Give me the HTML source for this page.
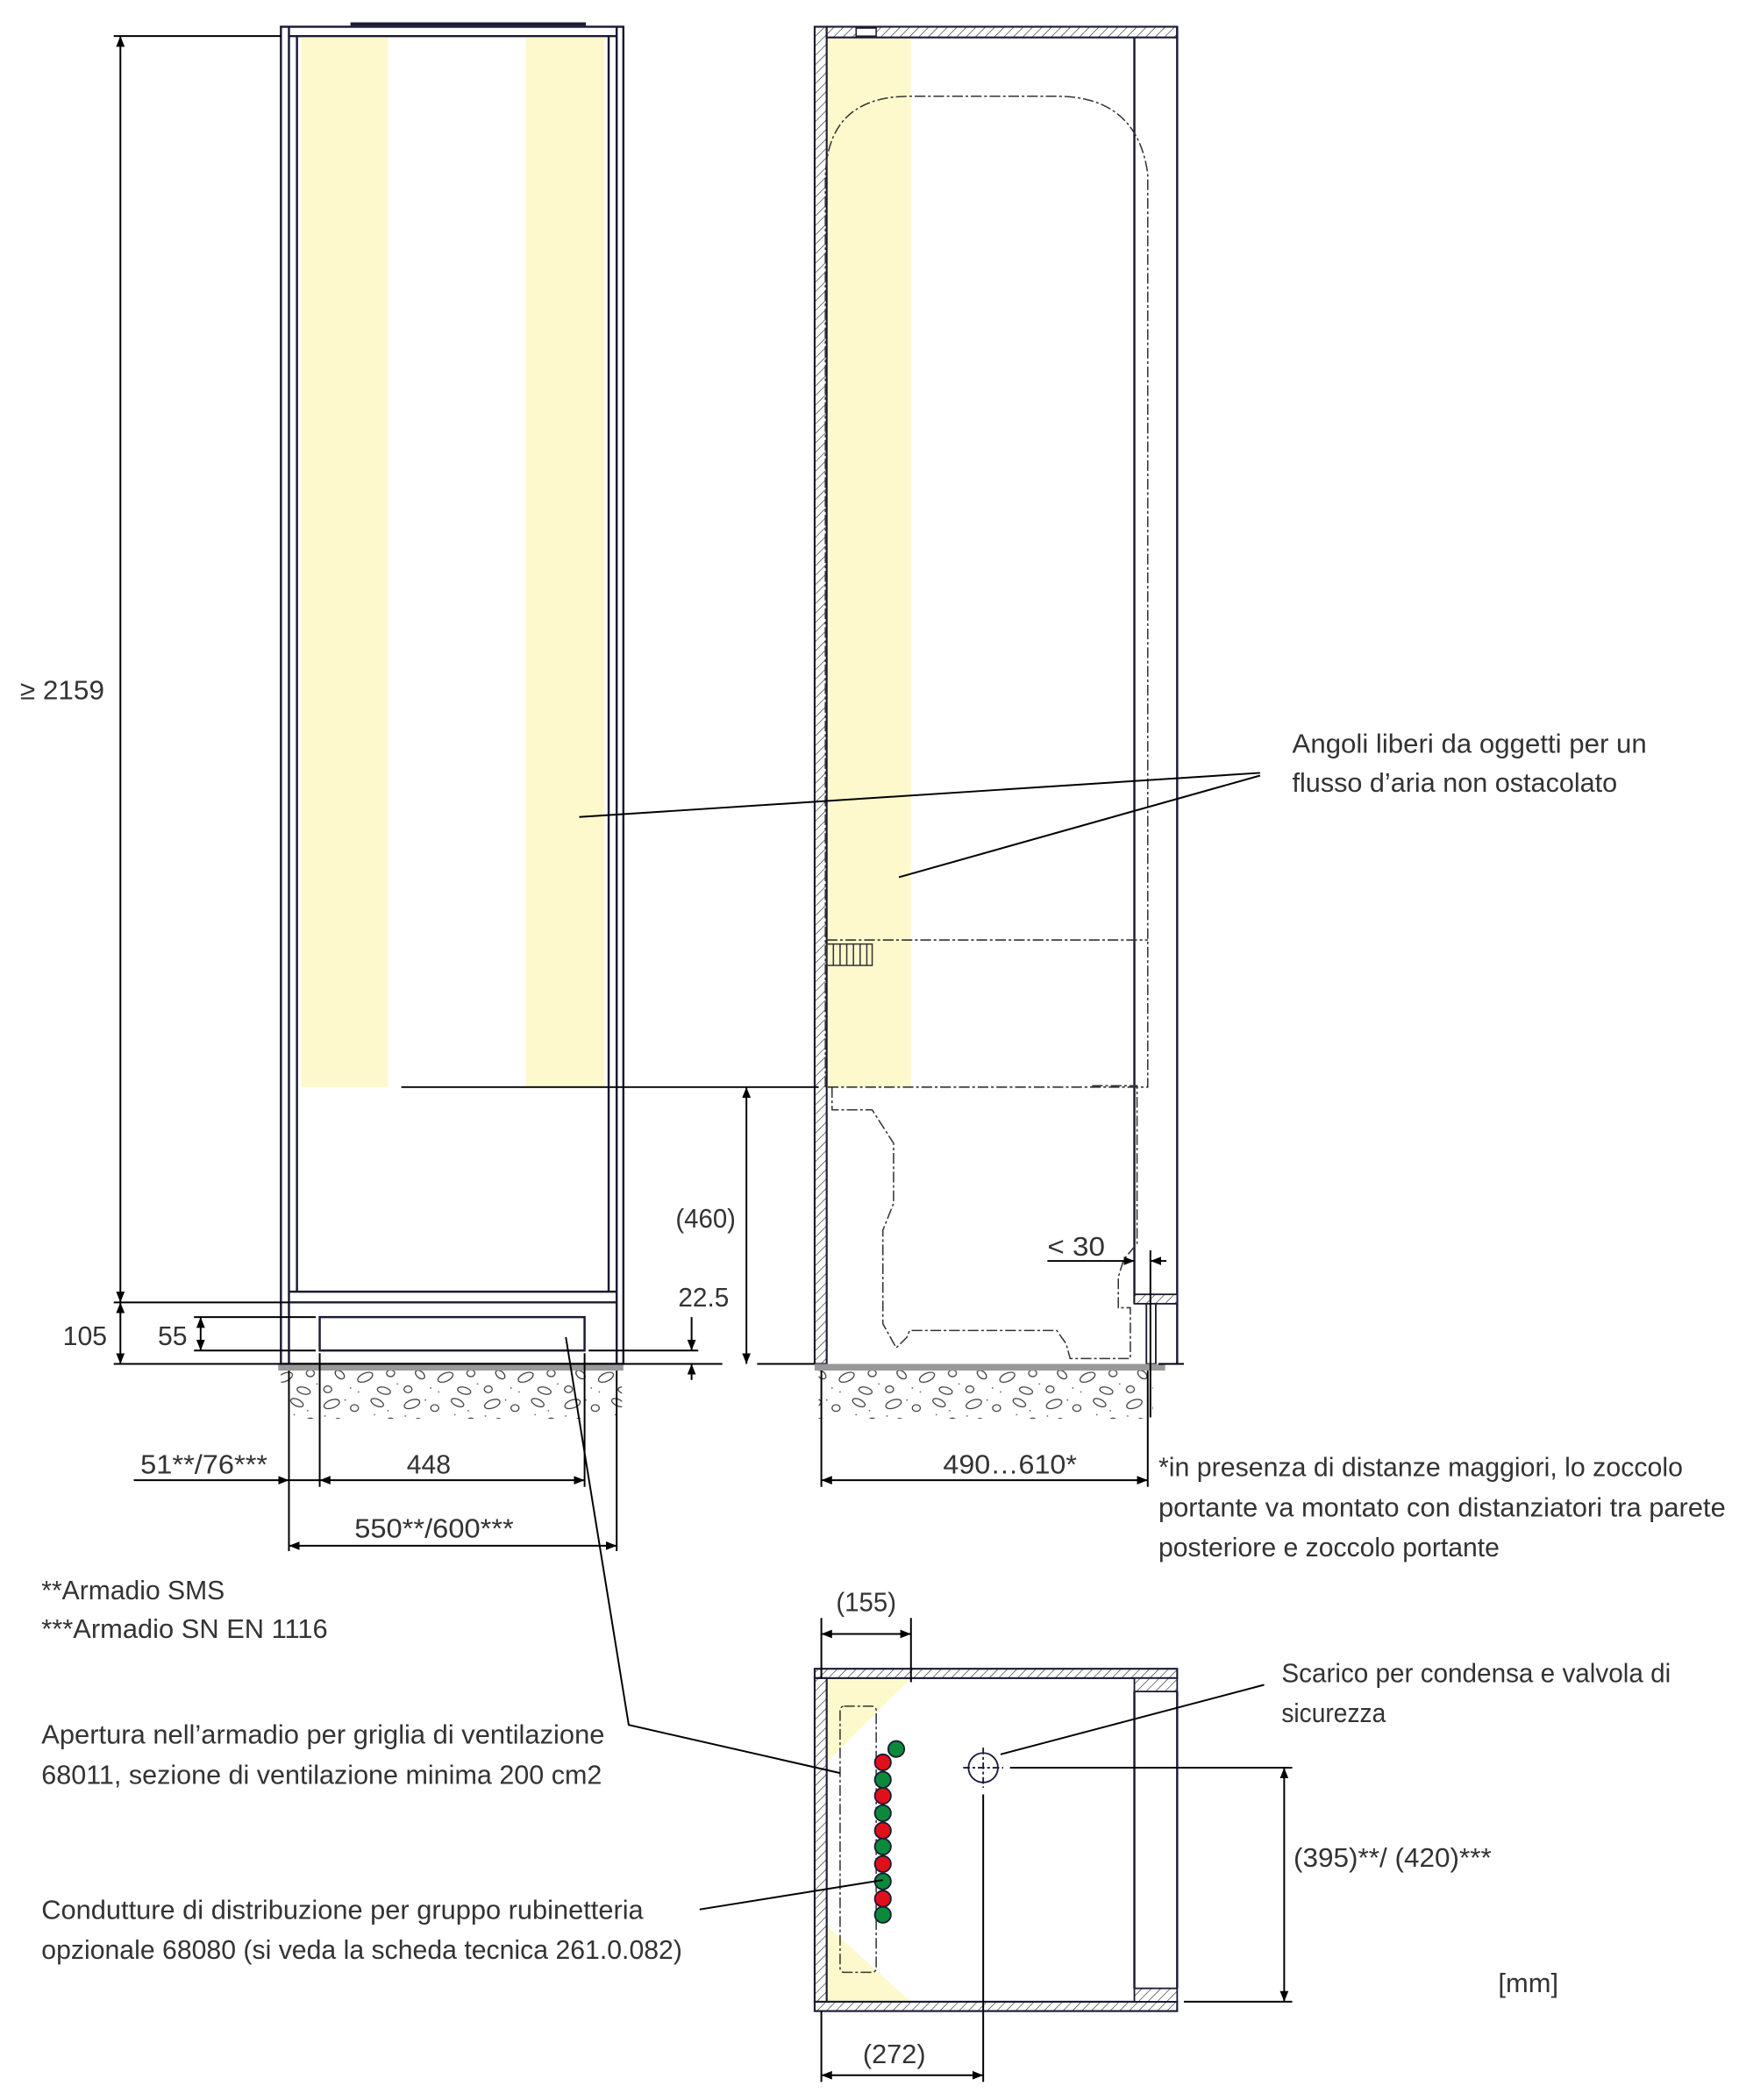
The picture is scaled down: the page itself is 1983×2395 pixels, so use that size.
<!DOCTYPE html>
<html><head><meta charset="utf-8"><style>html,body{margin:0;padding:0;background:#fff}svg{display:block}text{font-family:"Liberation Sans Narrow","Liberation Sans",sans-serif;fill:#333;font-size:20px}</style></head><body>
<svg width="1983" height="2395" viewBox="0 0 1300 1570.5" preserveAspectRatio="none" xmlns="http://www.w3.org/2000/svg">
<defs>
<pattern id="h" width="5" height="5" patternUnits="userSpaceOnUse" patternTransform="rotate(45)"><rect width="5" height="5" fill="#fff"/><line x1="0" y1="0" x2="0" y2="5" stroke="#222" stroke-width="0.8"/></pattern>
<pattern id="g" width="60" height="36" patternUnits="userSpaceOnUse"><g fill="none" stroke="#333" stroke-width="0.8"><ellipse cx="8" cy="6" rx="6" ry="3" transform="rotate(-20 8 6)"/><ellipse cx="25" cy="9" rx="3" ry="2.5"/><ellipse cx="42" cy="5" rx="5" ry="2.5" transform="rotate(25 42 5)"/><ellipse cx="14" cy="20" rx="4" ry="2.5" transform="rotate(40 14 20)"/><ellipse cx="33" cy="22" rx="6" ry="3" transform="rotate(-25 33 22)"/><ellipse cx="52" cy="19" rx="3" ry="2.5"/><ellipse cx="5" cy="31" rx="3" ry="2.5"/><ellipse cx="47" cy="32" rx="5" ry="2.5" transform="rotate(15 47 32)"/></g><g fill="#666"><circle cx="18" cy="3" r=".6"/><circle cx="50" cy="11" r=".6"/><circle cx="22" cy="30" r=".6"/><circle cx="3" cy="15" r=".6"/><circle cx="40" cy="14" r=".6"/><circle cx="28" cy="33" r=".6"/><circle cx="57" cy="27" r=".6"/></g></pattern>
<marker id="a" viewBox="0 0 10 10" refX="10" refY="5" markerWidth="8" markerHeight="8" orient="auto-start-reverse" markerUnits="userSpaceOnUse"><path d="M0,1 L10,5 L0,9 z" fill="#000"/></marker>
</defs>
<g fill="#fef9cc"><rect x="225" y="28" width="65" height="785"/><rect x="393" y="28" width="59" height="785"/><rect x="618" y="28" width="63" height="785"/><path d="M618,1255 L681,1255 L618,1318 z"/><path d="M618,1440 L681,1497 L618,1497 z"/></g>
<!-- left cabinet -->
<g fill="none" stroke="#1a1a33" stroke-width="1.6">
<rect x="210" y="20" width="256" height="1000"/>
<line x1="216" y1="20" x2="216" y2="1020"/><line x1="461" y1="20" x2="461" y2="1020"/>
<line x1="222" y1="27" x2="222" y2="966"/><line x1="455" y1="27" x2="455" y2="966"/>
<line x1="216" y1="27" x2="461" y2="27"/>
<line x1="216" y1="966" x2="461" y2="966"/><line x1="216" y1="974" x2="461" y2="974"/>
<rect x="239" y="985" width="198" height="25"/>
<line x1="262" y1="18" x2="438" y2="18" stroke-width="2.5"/>
</g>
<rect x="208" y="1020" width="258" height="5" fill="#999"/>
<rect x="210" y="1025" width="255" height="36" fill="url(#g)"/>
<!-- side cabinet -->
<rect x="609" y="20" width="9" height="1000" fill="url(#h)" stroke="#1a1a33" stroke-width="1.4"/>
<rect x="618" y="20" width="262" height="8" fill="url(#h)" stroke="#1a1a33" stroke-width="1.4"/>
<rect x="640" y="21" width="15" height="6" fill="#fff" stroke="#1a1a33" stroke-width="1"/>
<g fill="none" stroke="#1a1a33" stroke-width="1.6"><line x1="880" y1="20" x2="880" y2="975"/><line x1="848" y1="28" x2="848" y2="975"/><line x1="880" y1="975" x2="880" y2="1020"/></g>
<rect x="848" y="968" width="32" height="7" fill="url(#h)" stroke="#1a1a33" stroke-width="1.2"/>
<rect x="857" y="975" width="7" height="45" fill="#fff" stroke="#1a1a33" stroke-width="1.2"/>
<g fill="none" stroke="#333" stroke-width="1" stroke-dasharray="8,2,2,2">
<path d="M617,813 L617,135 Q617,72 680,72 L790,72 Q850,72 858,130 L858,813 L618,813"/>
<line x1="618" y1="703" x2="858" y2="703"/>
<path d="M622,813 L622,830 L652,830 L668,855 L668,900 L660,920 L660,990 L670,1008 L678,1000 L680,995 L790,995 L797,1005 L800,1016 L845,1016 L845,978 L836,978 L836,955 L840,942 L850,930 L850,812 L815,812"/>
</g>
<g stroke="#333" stroke-width="1"><rect x="618" y="706" width="34" height="16" fill="none"/><line x1="623" y1="706" x2="623" y2="722"/><line x1="628" y1="706" x2="628" y2="722"/><line x1="633" y1="706" x2="633" y2="722"/><line x1="638" y1="706" x2="638" y2="722"/><line x1="643" y1="706" x2="643" y2="722"/><line x1="648" y1="706" x2="648" y2="722"/></g>
<rect x="609" y="1020" width="262" height="5" fill="#999"/>
<rect x="612" y="1025" width="250" height="36" fill="url(#g)"/>
<!-- plan view -->
<rect x="609" y="1248" width="271" height="7" fill="url(#h)" stroke="#1a1a33" stroke-width="1.4"/>
<rect x="609" y="1497" width="271" height="7" fill="url(#h)" stroke="#1a1a33" stroke-width="1.4"/>
<rect x="609" y="1255" width="9" height="242" fill="url(#h)" stroke="#1a1a33" stroke-width="1.4"/>
<rect x="848" y="1255" width="32" height="10" fill="url(#h)" stroke="#1a1a33" stroke-width="1.2"/>
<rect x="848" y="1487" width="32" height="10" fill="url(#h)" stroke="#1a1a33" stroke-width="1.2"/>
<g stroke="#1a1a33" stroke-width="1.6"><line x1="848" y1="1265" x2="848" y2="1487"/><line x1="880" y1="1265" x2="880" y2="1487"/></g>
<rect x="628" y="1276" width="27" height="199" rx="3" fill="none" stroke="#333" stroke-width="1" stroke-dasharray="8,2,2,2"/>
<g stroke="#1a1a33" stroke-width="1.2">
<circle cx="670" cy="1308" r="6" fill="#0a8a3a"/>
<circle cx="660" cy="1318" r="6" fill="#e0101a"/><circle cx="660" cy="1331" r="6" fill="#0a8a3a"/><circle cx="660" cy="1343" r="6" fill="#e0101a"/><circle cx="660" cy="1356" r="6" fill="#0a8a3a"/><circle cx="660" cy="1369" r="6" fill="#e0101a"/><circle cx="660" cy="1381" r="6" fill="#0a8a3a"/><circle cx="660" cy="1394" r="6" fill="#e0101a"/><circle cx="660" cy="1407" r="6" fill="#0a8a3a"/><circle cx="660" cy="1420" r="6" fill="#e0101a"/><circle cx="660" cy="1432" r="6" fill="#0a8a3a"/>
<circle cx="735" cy="1322" r="11" fill="none"/>
<line x1="720" y1="1322" x2="750" y2="1322" stroke-dasharray="5,2,2,2"/><line x1="735" y1="1307" x2="735" y2="1337" stroke-dasharray="5,2,2,2"/>
</g>
<!-- dimension & leader lines -->
<g stroke="#000" stroke-width="1.3" fill="none">
<line x1="85" y1="27" x2="210" y2="27"/><line x1="85" y1="974" x2="216" y2="974"/><line x1="85" y1="1020" x2="540" y2="1020"/><line x1="566" y1="1020" x2="609" y2="1020"/><line x1="866" y1="1020" x2="885" y2="1020"/>
<line x1="90" y1="27" x2="90" y2="974" marker-start="url(#a)" marker-end="url(#a)"/>
<line x1="90" y1="974" x2="90" y2="1020" marker-start="url(#a)" marker-end="url(#a)"/>
<line x1="145" y1="985" x2="236" y2="985"/><line x1="145" y1="1010" x2="236" y2="1010"/>
<line x1="150" y1="985" x2="150" y2="1010" marker-start="url(#a)" marker-end="url(#a)"/>
<line x1="440" y1="1010" x2="522" y2="1010"/>
<line x1="517" y1="985" x2="517" y2="1010" marker-end="url(#a)"/><line x1="517" y1="1032" x2="517" y2="1020" marker-end="url(#a)"/>
<line x1="300" y1="813" x2="612" y2="813"/>
<line x1="558" y1="813" x2="558" y2="1020" marker-start="url(#a)" marker-end="url(#a)"/>
<line x1="216" y1="1025" x2="216" y2="1160"/><line x1="461" y1="1025" x2="461" y2="1160"/><line x1="239" y1="1012" x2="239" y2="1112"/><line x1="437" y1="1012" x2="437" y2="1112"/>
<line x1="100" y1="1107" x2="216" y2="1107" marker-end="url(#a)"/>
<line x1="216" y1="1107" x2="239" y2="1107"/>
<line x1="239" y1="1107" x2="437" y2="1107" marker-start="url(#a)" marker-end="url(#a)"/>
<line x1="216" y1="1156" x2="461" y2="1156" marker-start="url(#a)" marker-end="url(#a)"/>
<line x1="614" y1="1025" x2="614" y2="1112"/><line x1="858" y1="1025" x2="858" y2="1112"/>
<line x1="614" y1="1107" x2="858" y2="1107" marker-start="url(#a)" marker-end="url(#a)"/>
<line x1="783" y1="943" x2="848" y2="943" marker-end="url(#a)"/><line x1="872" y1="943" x2="860" y2="943" marker-end="url(#a)"/><line x1="860" y1="935" x2="860" y2="1060"/>
<line x1="433" y1="611" x2="942" y2="578"/><line x1="672" y1="656" x2="942" y2="580"/>
<polyline points="423,1000 470,1290 628,1326"/>
<line x1="523" y1="1428" x2="660" y2="1406"/>
<line x1="748" y1="1312" x2="945" y2="1260"/>
<line x1="614" y1="1210" x2="614" y2="1255"/><line x1="681" y1="1210" x2="681" y2="1258"/>
<line x1="614" y1="1222" x2="681" y2="1222" marker-start="url(#a)" marker-end="url(#a)"/>
<line x1="614" y1="1504" x2="614" y2="1557"/><line x1="735" y1="1342" x2="735" y2="1557"/>
<line x1="614" y1="1552" x2="735" y2="1552" marker-start="url(#a)" marker-end="url(#a)"/>
<line x1="755" y1="1322" x2="966" y2="1322"/><line x1="885" y1="1497" x2="966" y2="1497"/>
<line x1="960" y1="1322" x2="960" y2="1497" marker-start="url(#a)" marker-end="url(#a)"/>
</g>
<!-- texts -->
<text x="15" y="523" textLength="63" lengthAdjust="spacingAndGlyphs">≥ 2159</text>
<text x="47" y="1006" textLength="33" lengthAdjust="spacingAndGlyphs">105</text>
<text x="118" y="1006" textLength="22" lengthAdjust="spacingAndGlyphs">55</text>
<text x="507" y="977" textLength="38" lengthAdjust="spacingAndGlyphs">22.5</text>
<text x="505" y="918" textLength="45" lengthAdjust="spacingAndGlyphs">(460)</text>
<text x="783" y="939" textLength="43" lengthAdjust="spacingAndGlyphs">&lt; 30</text>
<text x="105" y="1102" textLength="95" lengthAdjust="spacingAndGlyphs">51**/76***</text>
<text x="304" y="1102" textLength="33" lengthAdjust="spacingAndGlyphs">448</text>
<text x="265" y="1150" textLength="119" lengthAdjust="spacingAndGlyphs">550**/600***</text>
<text x="705" y="1102" textLength="100" lengthAdjust="spacingAndGlyphs">490…610*</text>
<text x="625" y="1205" textLength="45" lengthAdjust="spacingAndGlyphs">(155)</text>
<text x="645" y="1543" textLength="47" lengthAdjust="spacingAndGlyphs">(272)</text>
<text x="967" y="1396" textLength="148" lengthAdjust="spacingAndGlyphs">(395)**/ (420)***</text>
<text x="1120" y="1490" textLength="45" lengthAdjust="spacingAndGlyphs">[mm]</text>
<text x="966" y="563" textLength="265" lengthAdjust="spacingAndGlyphs">Angoli liberi da oggetti per un</text>
<text x="966" y="592" textLength="243" lengthAdjust="spacingAndGlyphs">flusso d’aria non ostacolato</text>
<text x="866" y="1104" textLength="392" lengthAdjust="spacingAndGlyphs">*in presenza di distanze maggiori, lo zoccolo</text>
<text x="866" y="1134" textLength="424" lengthAdjust="spacingAndGlyphs">portante va montato con distanziatori tra parete</text>
<text x="866" y="1164" textLength="255" lengthAdjust="spacingAndGlyphs">posteriore e zoccolo portante</text>
<text x="31" y="1196" textLength="137" lengthAdjust="spacingAndGlyphs">**Armadio SMS</text>
<text x="31" y="1225" textLength="214" lengthAdjust="spacingAndGlyphs">***Armadio SN EN 1116</text>
<text x="31" y="1304" textLength="421" lengthAdjust="spacingAndGlyphs">Apertura nell’armadio per griglia di ventilazione</text>
<text x="31" y="1334" textLength="419" lengthAdjust="spacingAndGlyphs">68011, sezione di ventilazione minima 200 cm2</text>
<text x="31" y="1435" textLength="450" lengthAdjust="spacingAndGlyphs">Condutture di distribuzione per gruppo rubinetteria</text>
<text x="31" y="1465" textLength="479" lengthAdjust="spacingAndGlyphs">opzionale 68080 (si veda la scheda tecnica 261.0.082)</text>
<text x="958" y="1258" textLength="291" lengthAdjust="spacingAndGlyphs">Scarico per condensa e valvola di</text>
<text x="958" y="1288" textLength="78" lengthAdjust="spacingAndGlyphs">sicurezza</text>
</svg>
</body></html>
